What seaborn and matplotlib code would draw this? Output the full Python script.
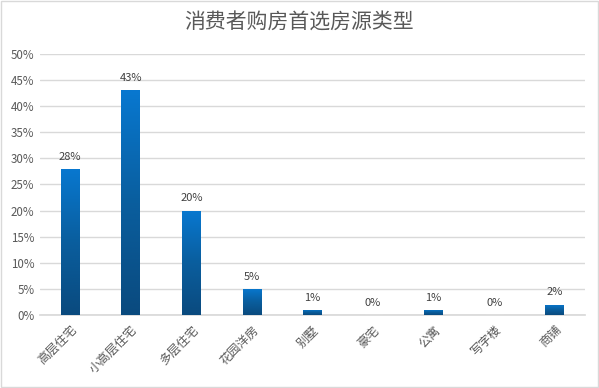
import matplotlib
matplotlib.use("Agg")
import matplotlib.pyplot as plt
import seaborn as sns
import numpy as np
import pandas as pd
from matplotlib.colors import LinearSegmentedColormap
from matplotlib.patches import Rectangle

categories = ["高层住宅", "小高层住宅", "多层住宅", "花园洋房", "别墅", "豪宅", "公寓", "写字楼", "商铺"]
values = [28, 43, 20, 5, 1, 0, 1, 0, 2]
yticks = [0, 5, 10, 15, 20, 25, 30, 35, 40, 45, 50]
title = "消费者购房首选房源类型"

sns.set_theme(style="white")
plt.rcParams['font.family'] = ['Noto Sans CJK SC', 'DejaVu Sans']

fig = plt.figure(figsize=(5.99, 3.88), dpi=100)
ax = fig.add_axes([0.0668, 0.188, 0.91, 0.673])

df = pd.DataFrame({"cat": categories, "val": values})
sns.barplot(data=df, x="cat", y="val", ax=ax, width=0.31, color="#0070C0", saturation=1)

cmap = LinearSegmentedColormap.from_list("g", ["#0A4A7E", "#0A5E9E", "#0878D0"])
grad = np.linspace(0, 1, 256).reshape(-1, 1)
for p in ax.patches:
    x0, y0 = p.get_x(), p.get_y()
    w, h = p.get_width(), p.get_height()
    if h <= 0:
        continue
    im = ax.imshow(grad, cmap=cmap, aspect="auto", origin="lower",
                   extent=[x0, x0 + w, y0, y0 + h], zorder=3)
    im.set_clip_path(p)
    p.set_facecolor("none")
    p.set_edgecolor("none")

for i, v in enumerate(values):
    ax.text(i, v + 1.4, f"{v}%", ha="center", va="bottom", fontsize=8, color="#404040", zorder=4)

ax.set_xlim(-0.5, len(categories) - 0.5)
ax.set_ylim(0, 50)
ax.set_yticks(yticks)
ax.set_yticklabels([f"{t}%" for t in yticks], fontsize=8.3, color="#595959")
ax.set_xticks(range(len(categories)))
ax.set_xticklabels(categories, rotation=45, ha="right", rotation_mode="anchor",
                   fontsize=8.8, color="#595959")
ax.tick_params(axis="both", length=0, pad=4)
ax.tick_params(axis="x", pad=6)
ax.yaxis.grid(True, color="#D9D9D9", linewidth=1)
ax.set_axisbelow(True)
for s in ["top", "right", "left"]:
    ax.spines[s].set_visible(False)
ax.spines["bottom"].set_color("#D9D9D9")
ax.set_xlabel("")
ax.set_ylabel("")

fig.text(0.5, 0.942, title, ha="center", va="center", fontsize=15, color="#595959")
fig.patches.append(Rectangle((0.002, 0.003), 0.996, 0.994, transform=fig.transFigure,
                             fill=False, edgecolor="#D9D9D9", linewidth=1))

fig.savefig("out.png", dpi=100)
